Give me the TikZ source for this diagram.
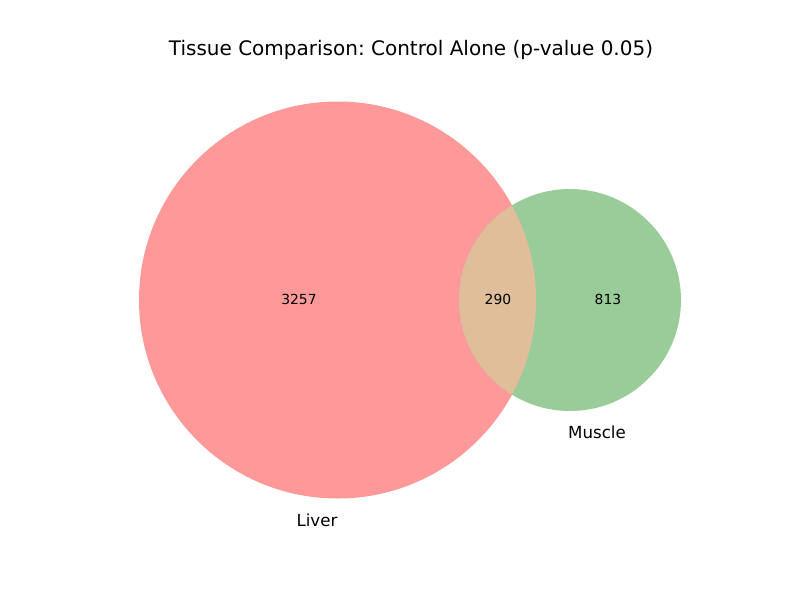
\documentclass[tikz,border=0pt]{standalone}
\usepackage{fontspec}
\setmainfont{DejaVu Sans}
\frenchspacing
\definecolor{liverc}{RGB}{255,153,153}
\definecolor{musclec}{RGB}{153,204,153}
\definecolor{overc}{RGB}{224,190,153}
\begin{document}
\begin{tikzpicture}[x=1pt,y=-1pt,
  titletxt/.style={font=\fontsize{20}{24}\selectfont, inner sep=0pt},
  bigtxt/.style={font=\fontsize{16.67}{20}\selectfont, inner sep=0pt},
  numtxt/.style={font=\fontsize{13.9}{16}\selectfont, inner sep=0pt}]
\useasboundingbox (0,0) rectangle (800,600);
\fill[white] (0,0) rectangle (800,600);
\coordinate (lc) at (337.5,300);
\coordinate (mc) at (570,300);
\fill[liverc] (lc) circle[radius=198.5];
\fill[musclec] (mc) circle[radius=111];
\begin{scope}
\clip (lc) circle[radius=198.5];
\fill[overc] (mc) circle[radius=111];
\end{scope}
\node[titletxt] (title) at (411,49.5) {Tissue Comparison: Control Alone (p-value 0.05)};
\node[numtxt] (n1) at (299,299) {3257};
\node[numtxt] (n2) at (498,299) {290};
\node[numtxt] (n3) at (608,299) {813};
\node[bigtxt] (l1) at (317,520) {Liver};
\node[bigtxt] (l2) at (597,432) {Muscle};
\end{tikzpicture}
\end{document}
